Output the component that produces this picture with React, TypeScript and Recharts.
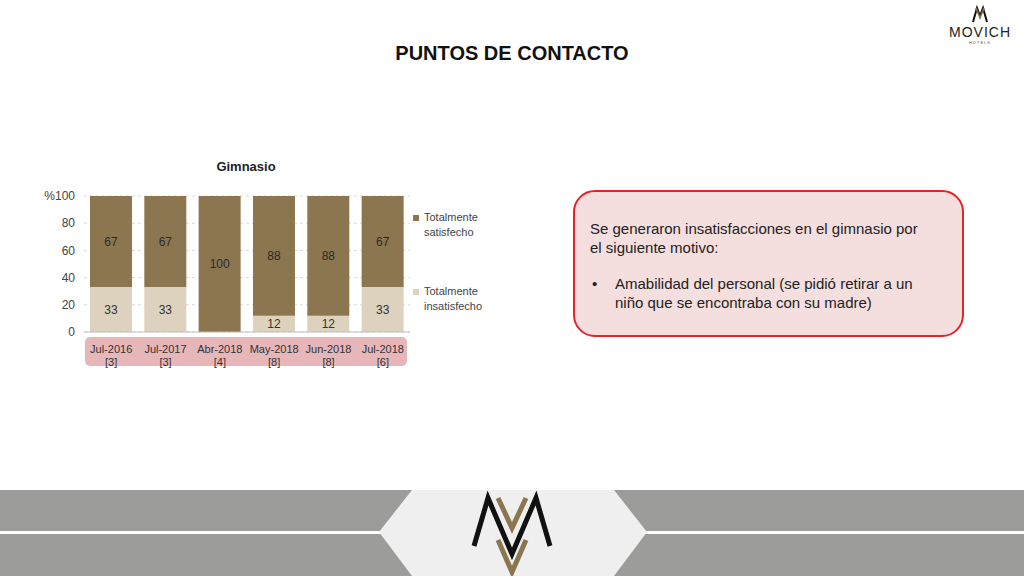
import { BarChart, Bar, XAxis, YAxis, CartesianGrid, Legend, LabelList } from 'recharts';

const categories = ['Jul-2016', 'Jul-2017', 'Abr-2018', 'May-2018', 'Jun-2018', 'Jul-2018'];
const counts = ['[3]', '[3]', '[4]', '[8]', '[8]', '[6]'];
const insatisfecho = [33, 33, 0, 12, 12, 33];
const satisfecho = [67, 67, 100, 88, 88, 67];
const yTicks = [0, 20, 40, 60, 80, 100];

const series = [
  { key: 'satisfecho', label: ['Totalmente', 'satisfecho'], color: '#8c7650' },
  { key: 'insatisfecho', label: ['Totalmente', 'insatisfecho'], color: '#ddd2bd' },
];

const data = categories.map((cat, i) => ({
  cat,
  count: counts[i],
  insatisfecho: insatisfecho[i],
  satisfecho: satisfecho[i],
}));

const font = '"Liberation Sans", Arial, sans-serif';

function CategoryTick(props: any) {
  const { x, y, index } = props;
  return (
    <text x={x} y={y} textAnchor="middle" fontSize={11} fill="#333" fontFamily={font}>
      <tspan x={x} dy={19}>{categories[index]}</tspan>
      <tspan x={x} dy={13}>{counts[index]}</tspan>
    </text>
  );
}

function hideZero(v: any) {
  return v === 0 ? '' : v;
}

function LegendBox() {
  return (
    <div style={{ fontFamily: font, fontSize: 11, color: '#444', lineHeight: '15px' }}>
      {series.map((s, i) => (
        <div key={s.key} style={{ display: 'flex', marginBottom: i === 0 ? 44 : 0 }}>
          <div style={{ width: 6, height: 6, background: s.color, marginTop: 5, marginRight: 5 }} />
          <div>
            {s.label[0]}
            <br />
            {s.label[1]}
          </div>
        </div>
      ))}
    </div>
  );
}

function FooterLogo() {
  return (
    <svg width={1024} height={90} style={{ position: 'absolute', left: 0, top: 488 }}>
      <rect x={0} y={2} width={1024} height={88} fill="#9c9c9a" />
      <rect x={0} y={43} width={1024} height={3} fill="#ffffff" />
      <polygon points="412,2 614,2 647,44 614,88 412,88 379,44" fill="#efefef" />
      <polyline points="498,10 512,40 526,10" fill="none" stroke="#8c7650" strokeWidth={5} />
      <polyline points="498,52 512,84 526,52" fill="none" stroke="#8c7650" strokeWidth={5} />
      <polyline points="474,58 488,10 512,66 536,10 550,58" fill="none" stroke="#111" strokeWidth={5} strokeLinejoin="miter" />
    </svg>
  );
}

export default function App() {
  return (
    <div style={{ position: 'absolute', left: 0, top: 0, width: 1024, height: 576, background: '#fff', overflow: 'hidden', fontFamily: font }}>
      <div style={{ position: 'absolute', left: 0, width: 1024, top: 42, textAlign: 'center', fontSize: 20, fontWeight: 'bold', color: '#111' }}>
        PUNTOS DE CONTACTO
      </div>

      <svg width={80} height={45} style={{ position: 'absolute', left: 940, top: 2 }}>
        <polyline points="33,20 37,6 40,14 43,6 47,20" fill="none" stroke="#111" strokeWidth={2} />
        <polyline points="36,6 40,16 44,6" fill="none" stroke="#8c7650" strokeWidth={1.5} />
        <text x={40} y={35} textAnchor="middle" fontSize={14} fill="#222" fontFamily={font} letterSpacing={1}>MOVICH</text>
        <text x={40} y={42} textAnchor="middle" fontSize={4} fill="#555" fontFamily={font} letterSpacing={1}>HOTELS</text>
      </svg>

      <div style={{ position: 'absolute', left: 146, width: 200, top: 159, textAlign: 'center', fontSize: 13, fontWeight: 'bold', color: '#222' }}>
        Gimnasio
      </div>

      <div style={{ position: 'absolute', left: 85, top: 337, width: 322, height: 29, background: '#e6b6b9', borderRadius: 5 }} />

      <div style={{ position: 'absolute', left: 22, top: 180 }}>
        <BarChart
          width={480}
          height={195}
          data={data}
          margin={{ top: 16, right: 2, bottom: 7, left: 0 }}
          barCategoryGap="11%"
        >
          <CartesianGrid vertical={false} stroke="#d9d9d9" strokeDasharray="3 3" />
          <XAxis
            dataKey="cat"
            height={36}
            tick={<CategoryTick />}
            tickLine={false}
            tickSize={0}
            axisLine={{ stroke: '#bfbfbf' }}
            interval={0}
          />
          <YAxis
            width={62}
            domain={[0, 100]}
            ticks={yTicks}
            tickFormatter={(v: number) => (v === 100 ? '%100' : String(v))}
            tick={{ fontSize: 12, fill: '#444', fontFamily: font }}
            tickLine={false}
            tickSize={0}
            tickMargin={9}
            axisLine={false}
          />
          <Legend
            layout="vertical"
            align="right"
            verticalAlign="top"
            wrapperStyle={{ left: 391, top: 30, width: 90 }}
            content={<LegendBox />}
          />
          <Bar dataKey="insatisfecho" stackId="a" fill="#ddd2bd" isAnimationActive={false}>
            <LabelList dataKey="insatisfecho" position="center" formatter={hideZero} fill="#333" fontSize={12} fontFamily={font} />
          </Bar>
          <Bar dataKey="satisfecho" stackId="a" fill="#8c7650" isAnimationActive={false}>
            <LabelList dataKey="satisfecho" position="center" fill="#2a2a2a" fontSize={12} fontFamily={font} />
          </Bar>
        </BarChart>
      </div>

      <div
        style={{
          position: 'absolute',
          left: 573,
          top: 190,
          width: 387,
          height: 143,
          border: '2px solid #e3242b',
          borderRadius: 22,
          background: '#f4dede',
          color: '#222',
          fontSize: 15,
          lineHeight: '19px',
        }}
      >
        <div style={{ position: 'absolute', left: 15, top: 27, width: 342 }}>
          Se generaron insatisfacciones en el gimnasio por el siguiente motivo:
        </div>
        <div style={{ position: 'absolute', left: 17, top: 82 }}>•</div>
        <div style={{ position: 'absolute', left: 40, top: 82, width: 326 }}>
          Amabilidad del personal (se pidió retirar a un niño que se encontraba con su madre)
        </div>
      </div>

      <FooterLogo />
    </div>
  );
}
